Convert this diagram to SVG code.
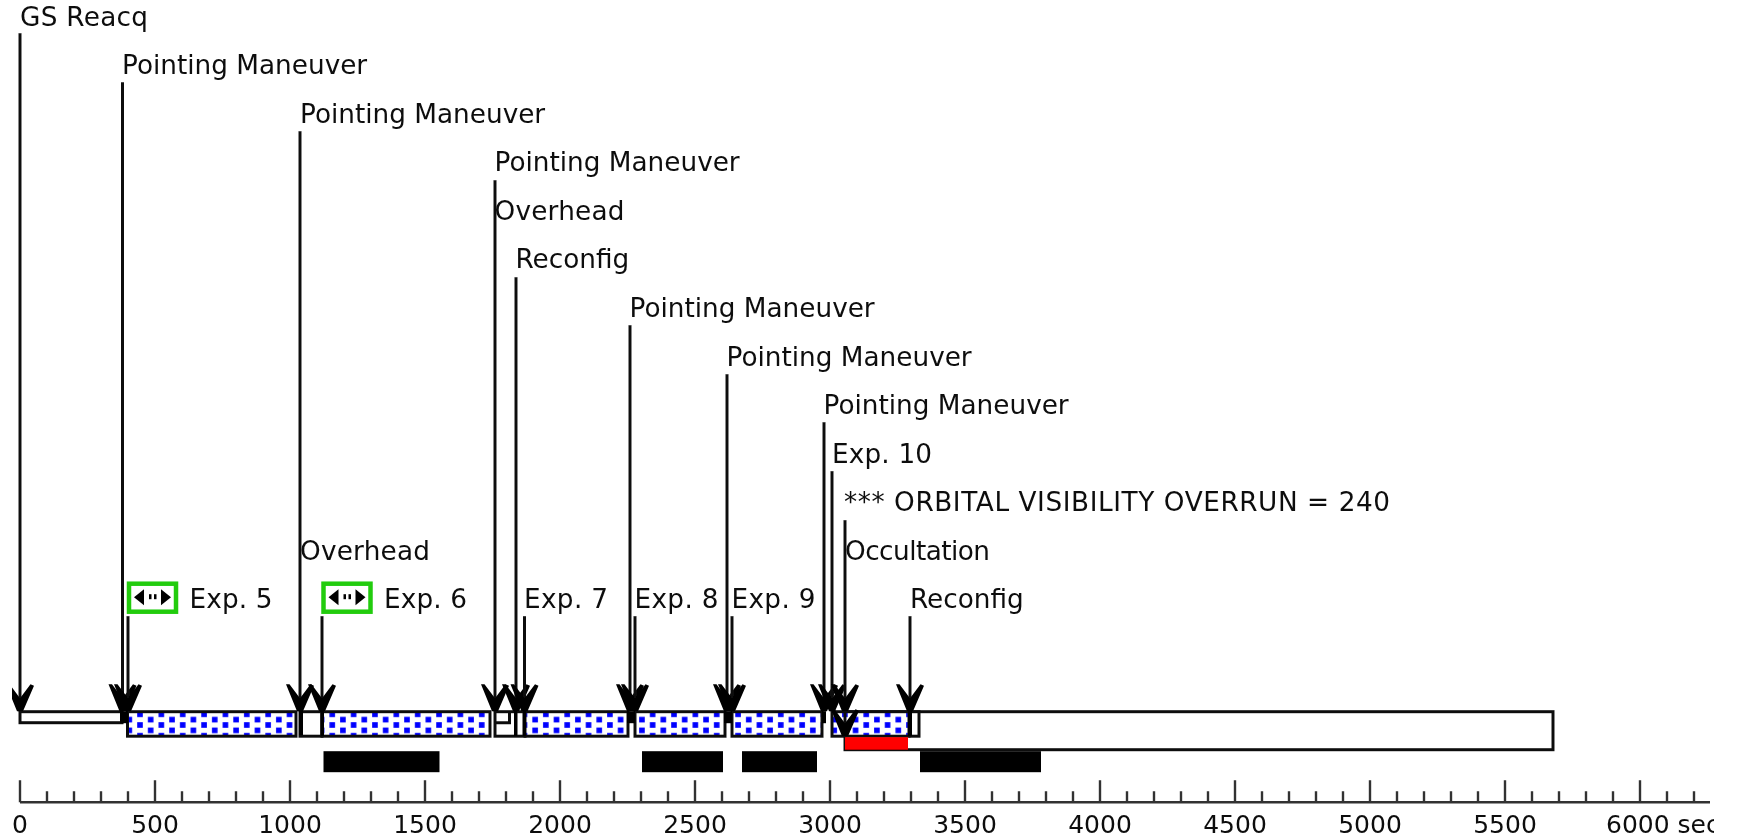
<svg xmlns="http://www.w3.org/2000/svg" width="1737" height="840" viewBox="0 0 1737 840">
<style>
text{font-family:"DejaVu Sans","Liberation Sans",sans-serif;font-size:26.3px;fill:#111}
.ax{font-size:25px;text-anchor:middle}
.box{fill:#fff;stroke:#111;stroke-width:3}
.dot{fill:url(#dots);stroke:#111;stroke-width:3}
.blk{fill:#000}
.shaft{stroke:#111;stroke-width:3;fill:none;marker-end:url(#head)}
.tick{stroke:#333;stroke-width:2.4;fill:none}
.grn{fill:#fff;stroke:#22cc11;stroke-width:4.5}
</style>
<defs>
<pattern id="dots" patternUnits="userSpaceOnUse" x="140" y="715.1" width="21.36" height="10.7">
<rect x="-10" y="-10" width="40" height="40" fill="#fff"/>
<rect x="-2.8" y="-2.8" width="5.6" height="5.6" fill="#00f"/>
<rect x="18.56" y="-2.8" width="5.6" height="5.6" fill="#00f"/>
<rect x="-2.8" y="7.9" width="5.6" height="5.6" fill="#00f"/>
<rect x="18.56" y="7.9" width="5.6" height="5.6" fill="#00f"/>
<rect x="7.88" y="2.55" width="5.6" height="5.6" fill="#00f"/>
</pattern>
<marker id="head" markerUnits="userSpaceOnUse" viewBox="-15 -29 30 30" refX="0" refY="0" markerWidth="30" markerHeight="30" orient="0">
<path d="M-14 -27 L-10.500 -27 L0 -13 L10.500 -27 L14 -25.500 L3 0 H-3 Z" fill="#000"/>
</marker>
<clipPath id="cut"><rect x="0" y="0" width="1714" height="840"/></clipPath>
<filter id="soft" x="0" y="0" width="100%" height="100%"><feGaussianBlur stdDeviation="0.55"/></filter>
</defs>
<rect width="1737" height="840" fill="#fff"/>
<g filter="url(#soft)" clip-path="url(#cut)" transform="translate(0,-0.8)">
<g id="bars">
<rect id="bar-main" class="box" x="845" y="712.5" width="708" height="38"/>
<rect id="bar-gs" class="box" x="20" y="712.5" width="102" height="11"/>
<rect id="exp5-bar" class="dot" x="127.5" y="712.5" width="168.500" height="24.5"/>
<rect id="oh1-bar" class="box" x="300" y="712.5" width="22" height="24.5"/>
<rect id="exp6-bar" class="dot" x="322" y="712.5" width="168" height="24.5"/>
<rect id="oh2-bar" class="box" x="495" y="712.5" width="30" height="24.5"/>
<path class="box" d="M495 723.500H509.500V712.500" style="fill:none"/>
<rect id="exp7-bar" class="dot" x="525" y="712.5" width="103" height="24.5"/>
<rect id="exp8-bar" class="dot" x="635" y="712.5" width="90" height="24.5"/>
<rect id="exp9-bar" class="dot" x="732" y="712.5" width="90" height="24.5"/>
<rect id="exp10-bar" class="dot" x="832" y="712.5" width="77" height="24.5"/>
<rect id="rc-bar" class="box" x="910" y="712.5" width="9" height="24.5"/>
<rect id="red" x="845" y="738" width="63" height="12.500" fill="#f00"/>
<rect class="blk" x="120" y="712" width="8" height="12"/>
<rect class="blk" x="299" y="712" width="4" height="24"/>
<rect class="blk" x="320.500" y="712" width="3.500" height="25"/>
<rect class="blk" x="514" y="712" width="3.500" height="25"/>
<rect class="blk" x="522.500" y="712" width="3.500" height="25"/>
<rect class="blk" x="627" y="712" width="8" height="12"/>
<rect class="blk" x="724" y="712" width="8" height="12"/>
<rect class="blk" x="822" y="712" width="4" height="12"/>
<rect class="blk" x="908" y="712" width="4" height="25"/>
</g>
<g id="busy">
<rect class="blk" x="323.500" y="752" width="116" height="21"/>
<rect class="blk" x="642" y="752" width="81" height="21"/>
<rect class="blk" x="742" y="752" width="75" height="21"/>
<rect class="blk" x="920" y="752" width="121" height="21"/>
</g>
<g id="connectors">
<line class="shaft" x1="20" y1="34" x2="20" y2="712"/>
<line class="shaft" x1="122.500" y1="83" x2="122.500" y2="712"/>
<line class="shaft" x1="300" y1="132" x2="300" y2="712"/>
<line class="shaft" x1="495" y1="181" x2="495" y2="712"/>
<line class="shaft" x1="516" y1="278" x2="516" y2="712"/>
<line class="shaft" x1="630" y1="326" x2="630" y2="712"/>
<line class="shaft" x1="727" y1="375" x2="727" y2="712"/>
<line class="shaft" x1="824" y1="423" x2="824" y2="712"/>
<line class="shaft" x1="832" y1="472" x2="832" y2="712"/>
<line class="shaft" x1="845" y1="521" x2="845" y2="712"/>
<line class="shaft" x1="845" y1="712" x2="845" y2="737"/>
<line class="shaft" x1="128" y1="617" x2="128" y2="712"/>
<line class="shaft" x1="322" y1="617" x2="322" y2="712"/>
<line class="shaft" x1="524.500" y1="617" x2="524.500" y2="712"/>
<line class="shaft" x1="635" y1="617" x2="635" y2="712"/>
<line class="shaft" x1="732" y1="617" x2="732" y2="712"/>
<line class="shaft" x1="910" y1="617" x2="910" y2="712"/>
</g>
<g id="exp5-icon">
<rect class="grn" x="129" y="584.500" width="47" height="28"/>
<path d="M134 598L144 590V606ZM171 598L161 590V606Z" fill="#000"/>
<rect x="149" y="595" width="2.500" height="5" fill="#000"/><rect x="154" y="595" width="2.500" height="5" fill="#000"/>
</g>
<g id="exp6-icon">
<rect class="grn" x="323.500" y="584.500" width="47" height="28"/>
<path d="M328.500 598L338.500 590V606ZM365.500 598L355.500 590V606Z" fill="#000"/>
<rect x="343.500" y="595" width="2.500" height="5" fill="#000"/><rect x="348.500" y="595" width="2.500" height="5" fill="#000"/>
</g>
<g id="labels">
<text x="20" y="26.500" textLength="128">GS Reacq</text>
<text x="122" y="75">Pointing Maneuver</text>
<text x="300" y="123.500">Pointing Maneuver</text>
<text x="494.500" y="172">Pointing Maneuver</text>
<text x="494.500" y="220.500" textLength="130">Overhead</text>
<text x="515.500" y="269">Reconfig</text>
<text x="629.500" y="318">Pointing Maneuver</text>
<text x="726.500" y="366.500">Pointing Maneuver</text>
<text x="823.500" y="415">Pointing Maneuver</text>
<text x="832" y="463.500" textLength="100">Exp. 10</text>
<text x="844" y="512" textLength="546">*** ORBITAL VISIBILITY OVERRUN = 240</text>
<text x="845" y="560.500" textLength="145">Occultation</text>
<text x="300" y="560.500" textLength="130">Overhead</text>
<text x="189.500" y="609" textLength="83">Exp. 5</text>
<text x="384" y="609" textLength="83">Exp. 6</text>
<text x="524" y="609" textLength="84">Exp. 7</text>
<text x="634.500" y="609" textLength="84">Exp. 8</text>
<text x="731.500" y="609" textLength="84">Exp. 9</text>
<text x="910" y="609">Reconfig</text>
</g>
<g id="axis">
<path class="tick" d="M20 803H1710M20 803V781M47 803V792M74 803V792M101 803V792M128 803V792M155 803V781M182 803V792M209 803V792M236 803V792M263 803V792M290 803V781M317 803V792M344 803V792M371 803V792M398 803V792M425 803V781M452 803V792M479 803V792M506 803V792M533 803V792M560 803V781M587 803V792M614 803V792M641 803V792M668 803V792M695 803V781M722 803V792M749 803V792M776 803V792M803 803V792M830 803V781M857 803V792M884 803V792M911 803V792M938 803V792M965 803V781M992 803V792M1019 803V792M1046 803V792M1073 803V792M1100 803V781M1127 803V792M1154 803V792M1181 803V792M1208 803V792M1235 803V781M1262 803V792M1289 803V792M1316 803V792M1343 803V792M1370 803V781M1397 803V792M1424 803V792M1451 803V792M1478 803V792M1505 803V781M1532 803V792M1559 803V792M1586 803V792M1613 803V792M1640 803V781M1667 803V792M1694 803V792"/>
<text class="ax" x="20" y="834">0</text>
<text class="ax" x="155" y="834">500</text>
<text class="ax" x="290" y="834">1000</text>
<text class="ax" x="425" y="834">1500</text>
<text class="ax" x="560" y="834">2000</text>
<text class="ax" x="695" y="834">2500</text>
<text class="ax" x="830" y="834">3000</text>
<text class="ax" x="965" y="834">3500</text>
<text class="ax" x="1100" y="834">4000</text>
<text class="ax" x="1235" y="834">4500</text>
<text class="ax" x="1370" y="834">5000</text>
<text class="ax" x="1505" y="834">5500</text>
<text x="1606" y="834" style="font-size:25px">6000 sec</text>
</g>
</g>
</svg>
